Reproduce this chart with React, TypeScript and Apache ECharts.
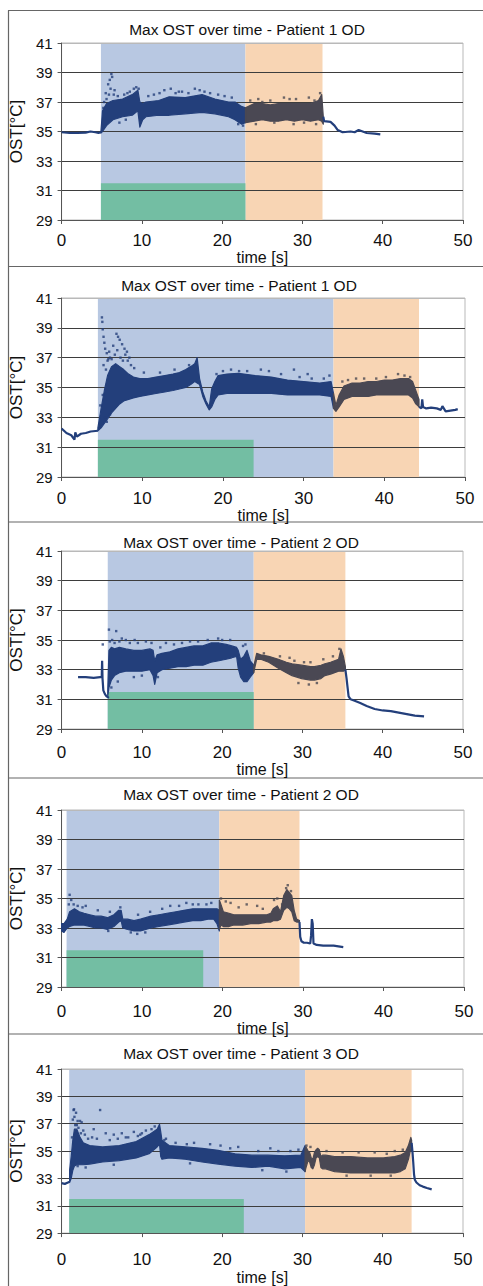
import React, { useEffect, useRef } from "react";
import * as echarts from "echarts";

const FONT = '"Liberation Sans", Arial, Helvetica, sans-serif';

// ---------------- Axis ticks ----------------
const xTicks = [0, 10, 20, 30, 40, 50];
const yTicks = [29, 31, 33, 35, 37, 39, 41];

// ---------------- Panel 1 ----------------
const p1Title = "Max OST over time - Patient 1 OD";
const p1Blue = [4.9, 22.9];
const p1Orange = [22.9, 32.5];
const p1Green = [4.9, 22.9, 31.5];
const p1PreT = [0, 1, 2, 3, 3.6, 4.2, 4.6, 4.9];
const p1PreY = [34.95, 34.9, 34.9, 34.92, 35.0, 34.95, 34.9, 34.95];
const p1BlueT = [4.9, 5.1, 5.6, 6.4, 7.6, 8.8, 9.5, 9.75, 10.1, 10.5, 12.1, 13.4, 15.4, 17.5, 19.1, 20.8, 21.6, 22.4, 22.9];
const p1BlueLo = [34.9, 35.0, 35.4, 35.8, 36.0, 36.1, 36.4, 35.3, 35.8, 36.0, 36.1, 36.1, 36.2, 36.3, 36.2, 36.0, 35.8, 35.5, 35.6];
const p1BlueHi = [35.0, 36.4, 36.9, 37.1, 37.2, 37.5, 37.8, 37.0, 36.9, 37.0, 37.1, 37.35, 37.3, 37.5, 37.2, 37.0, 37.0, 36.7, 36.6];
const p1GrayT = [22.9, 24, 25, 26, 27, 28, 29, 30, 31, 32, 32.4, 32.6];
const p1GrayLo = [35.6, 35.7, 35.8, 35.7, 35.7, 35.8, 35.7, 35.8, 35.7, 35.8, 35.7, 35.5];
const p1GrayHi = [36.6, 36.9, 36.9, 36.8, 36.9, 36.9, 36.9, 36.9, 36.9, 37.1, 37.5, 36.0];
const p1PostT = [32.6, 32.7, 33.5, 34.0, 34.4, 35.0, 36.0, 36.5, 37.0, 37.5, 38.0, 39.0, 39.7];
const p1PostY = [36.0, 35.7, 35.65, 35.4, 35.1, 34.95, 35.0, 34.95, 35.1, 35.0, 34.9, 34.85, 34.8];
const p1Outliers = [
  [5.3, 37.0], [5.5, 37.6], [5.8, 38.2], [6.0, 38.5], [6.2, 38.9], [6.3, 38.7], [6.1, 37.9],
  [6.5, 37.5], [7.0, 37.4], [8.5, 37.7], [9.0, 37.9], [9.3, 38.0], [12.8, 37.8], [13.6, 37.9],
  [14.6, 37.7], [16.6, 37.9], [17.2, 37.8], [18.5, 37.6], [24.5, 37.2], [26.0, 37.1],
  [27.7, 37.3], [29.2, 37.2], [30.8, 37.3], [32.2, 37.6],
  [7.8, 37.5], [8.2, 37.6], [10.8, 37.4], [11.5, 37.5], [12.2, 37.6], [14.2, 37.6], [15.0, 37.7],
  [15.8, 37.6], [17.8, 37.7], [19.5, 37.5], [20.3, 37.4], [21.2, 37.3], [5.2, 36.6], [5.6, 37.2],
  [5.9, 37.5], [6.6, 37.8], [9.6, 37.9], [23.5, 37.1], [25.0, 37.0], [28.4, 37.2], [31.5, 37.1],
  [7.2, 35.6], [8.0, 35.8], [22.0, 35.5], [22.6, 35.4], [24.2, 35.5], [26.5, 35.6], [28.9, 35.5],
  [30.2, 35.6], [31.7, 35.5],
];

// ---------------- Panel 2 ----------------
const p2Title = "Max OST over time - Patient 1 OD";
const p2Blue = [4.5, 33.7];
const p2Orange = [33.7, 44.3];
const p2Green = [4.5, 23.8, 31.5];
const p2PreT = [0, 0.6, 1.2, 1.6, 1.7, 1.9, 2.4, 3.0, 3.6, 4.5];
const p2PreY = [32.25, 31.95, 31.8, 31.5, 32.0, 31.7, 31.9, 31.95, 32.05, 32.1];
const p2BlueT = [4.5, 4.9, 5.3, 5.7, 6.2, 6.7, 7.2, 7.7, 8.3, 8.9, 9.7, 10.7, 11.7, 12.8, 13.8, 14.6, 15.4, 16.0, 16.5, 16.8, 17.1, 17.5, 17.9, 18.3, 18.6, 19.0, 19.4, 20.5, 21.9, 24.0, 26.0, 28.0, 30.0, 32.0, 33.4, 33.7];
const p2BlueLo = [32.1, 32.3, 32.6, 32.9, 33.3, 33.6, 33.9, 34.1, 34.2, 34.3, 34.4, 34.5, 34.6, 34.7, 34.8, 34.9, 35.0, 35.2, 35.4, 35.3, 35.2, 34.4, 33.9, 33.5, 33.7, 34.2, 34.5, 34.6, 34.6, 34.6, 34.6, 34.5, 34.5, 34.5, 34.4, 33.6];
const p2BlueHi = [32.3, 33.6, 34.8, 35.8, 36.4, 36.6, 36.4, 36.2, 35.9, 35.7, 35.6, 35.6, 35.7, 35.8, 35.9, 36.0, 36.2, 36.4, 36.6, 37.0, 35.6, 34.7, 34.1, 33.7, 34.9, 35.4, 35.8, 35.9, 35.95, 35.8, 35.7, 35.5, 35.4, 35.3, 35.4, 34.6];
const p2GrayT = [33.7, 34.0, 34.4, 35.0, 36.0, 37.0, 38.0, 39.0, 40.0, 41.0, 42.0, 43.0, 43.5, 43.9, 44.3];
const p2GrayLo = [33.6, 33.4, 33.7, 34.2, 34.4, 34.4, 34.4, 34.5, 34.5, 34.5, 34.5, 34.5, 34.3, 33.9, 33.7];
const p2GrayHi = [34.6, 33.8, 34.5, 35.1, 35.3, 35.3, 35.4, 35.4, 35.5, 35.5, 35.6, 35.6, 35.4, 34.8, 34.2];
const p2PostT = [44.3, 44.6, 44.7, 44.8, 45.2, 45.8, 46.5, 47.0, 47.2, 47.6, 48.2, 48.8, 49.1];
const p2PostY = [33.7, 33.6, 34.2, 33.7, 33.6, 33.65, 33.6, 33.5, 33.75, 33.4, 33.45, 33.5, 33.55];
const p2Outliers = [
  [5.0, 39.7], [5.05, 39.4], [5.1, 38.9], [5.2, 38.4], [5.3, 38.0], [5.4, 37.6], [5.6, 37.3],
  [6.0, 37.0], [6.8, 38.6], [7.0, 38.4], [7.2, 38.2], [7.5, 37.9], [7.8, 37.6], [8.1, 37.4],
  [8.4, 37.0], [6.4, 37.8], [5.8, 36.9], [6.6, 37.2], [21.0, 36.2], [22.0, 36.1], [28.8, 36.2],
  [30.5, 35.9], [33.2, 35.8], [36.5, 35.6], [40.2, 35.7], [41.7, 35.9],
  [5.2, 36.5], [5.5, 36.2], [5.7, 36.8], [5.9, 37.4], [6.2, 36.9], [6.9, 37.5], [7.3, 37.0],
  [7.6, 36.8], [7.9, 37.2], [8.2, 36.8], [8.6, 36.5], [9.0, 36.3], [4.8, 33.8], [5.1, 34.5],
  [5.4, 33.0], [5.6, 32.7], [6.0, 33.2], [10.2, 36.0], [12.2, 36.0], [14.0, 36.2], [15.8, 36.5],
  [19.2, 35.9], [20.0, 36.1], [23.0, 36.1], [24.7, 36.2], [25.7, 36.1], [27.2, 35.9], [29.5, 35.7],
  [31.0, 35.6], [32.5, 35.6], [34.8, 35.4], [35.5, 35.5], [37.5, 35.6], [39.0, 35.6], [42.5, 35.8],
  [43.2, 35.7],
];

// ---------------- Panel 3 ----------------
const p3Title = "Max OST over time - Patient 2 OD";
const p3Blue = [5.75, 23.93];
const p3Orange = [23.93, 35.35];
const p3Green = [5.75, 23.93, 31.5];
const p3PreT = [2.05, 3, 4, 4.8, 5.0, 5.05, 5.1, 5.2, 5.4, 5.6, 5.9];
const p3PreY = [32.5, 32.5, 32.45, 32.5, 32.5, 33.6, 32.4, 31.6, 31.35, 31.2, 31.1];
const p3BlueT = [5.75, 5.9, 6.2, 6.6, 7.2, 8.0, 9.0, 10.0, 11.0, 11.4, 11.6, 11.9, 12.5, 13.5, 14.5, 15.5, 16.5, 17.6, 18.6, 19.6, 20.5, 21.2, 21.8, 22.0, 22.3, 22.7, 23.1, 23.5, 23.93];
const p3BlueLo = [31.2, 31.8, 32.3, 32.6, 32.8, 32.9, 32.9, 32.9, 33.0, 32.6, 32.0, 32.8, 33.0, 33.1, 33.2, 33.2, 33.3, 33.3, 33.5, 33.6, 33.7, 33.8, 33.9, 33.1, 32.5, 32.2, 32.2, 32.5, 32.8];
const p3BlueHi = [31.6, 34.3, 34.5, 34.4, 34.5, 34.4, 34.3, 34.3, 34.4, 34.3, 33.6, 34.0, 34.1, 34.2, 34.4, 34.5, 34.6, 34.6, 34.8, 34.8, 34.7, 34.6, 34.5, 34.3, 33.7, 33.9, 34.3, 33.6, 33.3];
const p3GrayT = [23.93, 24.3, 24.8, 25.8, 27.0, 28.0, 28.7, 29.9, 31.0, 31.5, 32.3, 32.8, 33.5, 34.0, 34.5, 34.8, 35.1, 35.35];
const p3GrayLo = [32.8, 33.7, 33.7, 33.5, 33.1, 32.8, 32.6, 32.4, 32.3, 32.3, 32.4, 32.6, 32.7, 32.8, 32.9, 32.9, 32.9, 33.0];
const p3GrayHi = [33.2, 34.1, 34.0, 33.9, 33.7, 33.5, 33.4, 33.3, 33.2, 33.2, 33.3, 33.4, 33.5, 33.6, 33.7, 34.4, 33.9, 33.2];
const p3PostT = [35.35, 35.5, 35.6, 35.75, 36.0, 36.5, 37.2, 38.0, 39.0, 40.0, 41.0, 42.0, 43.0, 44.0, 45.15];
const p3PostY = [33.0, 32.4, 31.9, 31.2, 31.0, 30.9, 30.75, 30.55, 30.35, 30.25, 30.2, 30.1, 30.0, 29.9, 29.85];
const p3Outliers = [
  [5.13, 34.7], [5.9, 35.7], [6.8, 35.6], [7.5, 35.1], [8.0, 35.0], [7.2, 34.9], [9.5, 34.8],
  [10.5, 34.9], [13.0, 34.8], [16.0, 34.9], [19.5, 35.1], [20.0, 35.0], [22.6, 34.6],
  [29.0, 33.6], [31.0, 33.5], [34.6, 34.4],
  [6.0, 34.9], [6.3, 35.0], [6.6, 34.8], [8.5, 34.8], [9.1, 35.0], [11.2, 34.8], [12.3, 34.5],
  [14.0, 34.7], [15.0, 34.8], [17.0, 34.9], [18.2, 35.0], [21.0, 35.0], [22.9, 34.7], [6.2, 31.8],
  [7.0, 32.2], [9.0, 32.5], [10.0, 32.6], [12.0, 32.5], [25.2, 34.1], [27.2, 33.9], [28.4, 33.8],
  [30.2, 33.5], [32.6, 33.7], [33.8, 33.9], [29.5, 32.1], [30.8, 32.0], [31.8, 32.1],
];

// ---------------- Panel 4 ----------------
const p4Title = "Max OST over time - Patient 2 OD";
const p4Blue = [0.62, 19.6];
const p4Orange = [19.6, 29.56];
const p4Green = [0.62, 17.6, 31.5];
const p4PreT: number[] = [];
const p4PreY: number[] = [];
const p4BlueT = [0, 0.3, 0.7, 1.0, 1.6, 2.2, 2.8, 3.5, 4.2, 4.9, 5.7, 6.5, 7.1, 7.4, 7.6, 8.2, 9.0, 9.8, 11.1, 12.1, 13.1, 14.2, 15.2, 16.3, 17.3, 18.2, 18.9, 19.3, 19.6];
const p4BlueLo = [32.8, 32.7, 33.0, 33.1, 33.2, 33.2, 33.2, 33.1, 33.0, 33.0, 32.9, 33.1, 33.4, 33.5, 33.0, 32.9, 32.8, 32.8, 33.0, 33.1, 33.2, 33.3, 33.4, 33.5, 33.5, 33.6, 33.6, 33.3, 32.8];
const p4BlueHi = [33.3, 33.3, 33.6, 34.1, 34.3, 34.1, 34.0, 33.9, 33.8, 33.8, 33.7, 33.9, 34.2, 34.2, 33.6, 33.6, 33.5, 33.6, 33.8, 33.9, 34.0, 34.1, 34.2, 34.3, 34.3, 34.3, 34.3, 34.3, 34.2];
const p4GrayT = [19.6, 19.8, 20.1, 20.8, 21.4, 22.5, 23.5, 24.5, 25.5, 26.0, 26.3, 26.8, 27.2, 27.6, 28.0, 28.3, 28.6, 28.9, 29.2, 29.56];
const p4GrayLo = [32.9, 33.2, 33.1, 33.1, 33.2, 33.2, 33.3, 33.3, 33.4, 33.4, 33.5, 33.5, 33.6, 34.2, 34.4, 34.3, 34.1, 33.5, 33.4, 33.4];
const p4GrayHi = [34.9, 34.6, 34.1, 34.0, 33.9, 33.9, 33.9, 33.9, 33.9, 34.0, 34.3, 34.5, 34.1, 35.2, 35.6, 35.4, 35.2, 34.2, 33.6, 33.5];
const p4PostT = [29.56, 29.65, 29.8, 30.1, 30.5, 30.9, 31.0, 31.1, 31.2, 31.3, 31.7, 32.5, 33.8, 35.0];
const p4PostY = [33.4, 32.4, 32.1, 32.0, 32.0, 31.95, 32.5, 33.6, 33.3, 31.95, 31.85, 31.8, 31.8, 31.7];
const p4Outliers = [
  [1.0, 35.25], [1.2, 34.9], [0.9, 34.6], [3.0, 34.5], [7.3, 34.4], [13.5, 34.5], [15.5, 34.7],
  [16.3, 34.6], [18.0, 34.6], [19.8, 35.0], [21.0, 34.7], [23.0, 34.6], [24.3, 34.5],
  [26.8, 35.0], [28.1, 35.9], [27.9, 35.7], [28.5, 35.5],
  [1.5, 34.6], [2.0, 34.5], [2.6, 34.4], [4.5, 34.2], [6.0, 34.1], [9.5, 33.9], [11.0, 34.1],
  [12.5, 34.3], [14.6, 34.5], [17.0, 34.6], [18.6, 34.7], [20.4, 34.8], [22.0, 34.4], [25.0, 34.3],
  [26.4, 34.9], [27.4, 34.6], [5.8, 32.8], [8.6, 32.7], [9.4, 32.6], [10.4, 32.7],
];

// ---------------- Panel 5 ----------------
const p5Title = "Max OST over time - Patient 3 OD";
const p5Blue = [0.95, 30.33];
const p5Orange = [30.33, 43.6];
const p5Green = [0.95, 22.7, 31.5];
const p5PreT = [0, 0.4, 0.8, 1.0];
const p5PreY = [32.65, 32.6, 32.7, 32.75];
const p5BlueT = [1.0, 1.2, 1.4, 1.6, 1.9, 2.3, 2.7, 3.5, 5.1, 7.2, 9.3, 10.9, 11.9, 12.2, 12.35, 12.5, 13.4, 15.4, 17.5, 19.5, 21.6, 23.7, 25.7, 27.8, 29.8, 30.33];
const p5BlueLo = [32.7, 33.0, 33.6, 33.9, 34.0, 34.0, 34.0, 34.05, 34.2, 34.3, 34.5, 34.8, 35.3, 35.5, 34.6, 34.4, 34.5, 34.4, 34.2, 34.05, 33.9, 33.8, 33.9, 33.7, 33.8, 33.5];
const p5BlueHi = [33.6, 34.6, 35.8, 36.6, 36.6, 36.0, 35.6, 35.4, 35.3, 35.4, 35.7, 36.2, 36.6, 36.96, 36.4, 35.8, 35.4, 35.3, 35.2, 35.05, 34.8, 34.7, 34.7, 34.65, 34.7, 35.4];
const p5GrayT = [30.33, 30.45, 30.7, 30.9, 31.1, 31.3, 31.5, 31.7, 31.9, 32.1, 32.3, 32.5, 32.9, 34.0, 36.0, 38.1, 40.1, 41.5, 42.2, 42.8, 43.2, 43.5, 43.6];
const p5GrayLo = [33.5, 33.8, 34.3, 34.2, 33.8, 33.7, 34.0, 34.5, 34.6, 34.5, 33.8, 33.7, 33.7, 33.5, 33.4, 33.4, 33.4, 33.4, 33.5, 33.7, 34.4, 35.2, 35.0];
const p5GrayHi = [35.2, 35.3, 35.0, 34.9, 34.5, 34.4, 34.9, 35.1, 35.2, 35.1, 34.6, 34.7, 34.7, 34.6, 34.6, 34.5, 34.5, 34.6, 34.7, 34.9, 35.4, 36.0, 35.8];
const p5PostT = [43.6, 43.7, 43.8, 43.9, 44.0, 44.2, 44.6, 45.0, 45.5, 46.1];
const p5PostY = [35.6, 35.0, 34.2, 33.3, 32.9, 32.7, 32.5, 32.4, 32.3, 32.2];
const p5Outliers = [
  [1.4, 37.3], [1.5, 38.0], [1.55, 38.05], [1.8, 37.8], [1.6, 37.5], [2.0, 37.2], [2.3, 37.2],
  [2.5, 37.1], [1.9, 36.9], [2.7, 36.5], [4.0, 36.6], [4.8, 38.0], [5.5, 36.3], [6.5, 36.2],
  [7.5, 36.3], [8.3, 36.0], [9.0, 36.4], [9.5, 36.1], [10.5, 36.5], [13.0, 35.9], [16.5, 35.6],
  [22.0, 35.3], [26.0, 35.2], [30.5, 35.4], [33.0, 35.0], [39.0, 34.9], [41.5, 35.0],
  [1.3, 36.0], [1.7, 36.9], [2.1, 36.7], [2.4, 36.3], [2.9, 36.2], [3.3, 35.9], [3.8, 36.0],
  [4.4, 35.9], [6.0, 35.8], [7.0, 35.9], [8.0, 36.0], [9.8, 36.2], [10.0, 36.3], [11.2, 36.6],
  [11.6, 36.8], [12.8, 35.8], [14.2, 35.6], [15.6, 35.5], [18.5, 35.5], [19.8, 35.4], [21.0, 35.2],
  [24.5, 35.0], [27.0, 35.0], [28.5, 35.0], [29.5, 35.1], [31.0, 35.3], [35.0, 34.9], [37.0, 34.9],
  [40.5, 34.8], [42.5, 35.1], [2.0, 33.9], [3.0, 33.8], [6.5, 34.0], [16.0, 34.1], [25.0, 33.6],
  [28.0, 33.5], [35.5, 33.2], [38.5, 33.2], [41.0, 33.2],
];

// ---------------- Colors & layout (not data) ----------------
const C_BLUE_BG = "#b8c8e2";
const C_ORANGE_BG = "#f8d5b4";
const C_GREEN = "#73bea3";
const C_DATA = "#233f7b";
const C_DATA2 = "#4a4853";

type Panel = {
  title: string; blue: number[]; orange: number[]; green: number[];
  preT: number[]; preY: number[];
  blueT: number[]; blueLo: number[]; blueHi: number[];
  grayT: number[]; grayLo: number[]; grayHi: number[];
  postT: number[]; postY: number[];
  outliers: number[][];
};

const panels: Panel[] = [
  { title: p1Title, blue: p1Blue, orange: p1Orange, green: p1Green, preT: p1PreT, preY: p1PreY, blueT: p1BlueT, blueLo: p1BlueLo, blueHi: p1BlueHi, grayT: p1GrayT, grayLo: p1GrayLo, grayHi: p1GrayHi, postT: p1PostT, postY: p1PostY, outliers: p1Outliers },
  { title: p2Title, blue: p2Blue, orange: p2Orange, green: p2Green, preT: p2PreT, preY: p2PreY, blueT: p2BlueT, blueLo: p2BlueLo, blueHi: p2BlueHi, grayT: p2GrayT, grayLo: p2GrayLo, grayHi: p2GrayHi, postT: p2PostT, postY: p2PostY, outliers: p2Outliers },
  { title: p3Title, blue: p3Blue, orange: p3Orange, green: p3Green, preT: p3PreT, preY: p3PreY, blueT: p3BlueT, blueLo: p3BlueLo, blueHi: p3BlueHi, grayT: p3GrayT, grayLo: p3GrayLo, grayHi: p3GrayHi, postT: p3PostT, postY: p3PostY, outliers: p3Outliers },
  { title: p4Title, blue: p4Blue, orange: p4Orange, green: p4Green, preT: p4PreT, preY: p4PreY, blueT: p4BlueT, blueLo: p4BlueLo, blueHi: p4BlueHi, grayT: p4GrayT, grayLo: p4GrayLo, grayHi: p4GrayHi, postT: p4PostT, postY: p4PostY, outliers: p4Outliers },
  { title: p5Title, blue: p5Blue, orange: p5Orange, green: p5Green, preT: p5PreT, preY: p5PreY, blueT: p5BlueT, blueLo: p5BlueLo, blueHi: p5BlueHi, grayT: p5GrayT, grayLo: p5GrayLo, grayHi: p5GrayHi, postT: p5PostT, postY: p5PostY, outliers: p5Outliers },
];

// plot rectangles [left, top, width, height], title pos, label margins
const layout = [
  { left: 58, top: 43, w: 405, h: 177, titleX: 247, titleY: 29, xMargin: 12, xNameGap: 29 },
  { left: 53, top: 298, w: 412, h: 179, titleX: 239, titleY: 285, xMargin: 13, xNameGap: 27 },
  { left: 57, top: 551, w: 406, h: 178, titleX: 241, titleY: 542, xMargin: 15, xNameGap: 31 },
  { left: 61, top: 810, w: 403, h: 177, titleX: 241, titleY: 794, xMargin: 16, xNameGap: 27 },
  { left: 58, top: 1069, w: 405, h: 179, titleX: 241, titleY: 1053, xMargin: 18, xNameGap: 26 },
];
const dividers = [266.5, 522, 778, 1034];

function zip(a: number[], b: number[]) {
  return a.map((v, i) => [v, b[i]]);
}

function bandSeries(i: number, t: number[], lo: number[], hi: number[], color: string) {
  return {
    type: "custom",
    xAxisIndex: i,
    yAxisIndex: i,
    z: 3,
    silent: true,
    data: t.length ? [[t[0], lo[0]]] : [],
    renderItem: (params: any, api: any) => {
      if (params.dataIndex !== 0) return null;
      const pts: number[][] = [];
      for (let k = 0; k < t.length; k++) pts.push(api.coord([t[k], hi[k]]));
      for (let k = t.length - 1; k >= 0; k--) pts.push(api.coord([t[k], lo[k]]));
      return {
        type: "polygon",
        shape: { points: pts },
        style: { fill: color, stroke: color, lineWidth: 1.2, lineJoin: "round" },
      };
    },
  };
}

function buildOption() {
  const grid: any[] = [];
  const xAxis: any[] = [];
  const yAxis: any[] = [];
  const series: any[] = [];
  const graphic: any[] = [];

  panels.forEach((p, i) => {
    const L = layout[i];
    grid.push({
      left: L.left, top: L.top, width: L.w, height: L.h,
      show: true, borderColor: "#b9b9b9", borderWidth: 1, backgroundColor: "transparent",
    });
    xAxis.push({
      gridIndex: i, type: "value", min: xTicks[0], max: xTicks[xTicks.length - 1],
      interval: xTicks[1] - xTicks[0], z: 2,
      name: "time [s]", nameLocation: "middle", nameGap: L.xNameGap,
      nameTextStyle: { fontSize: 16, color: "#111", fontFamily: FONT },
      axisLine: { show: true, lineStyle: { color: "#555", width: 1 } },
      axisTick: { show: true, length: 4, lineStyle: { color: "#555" } },
      axisLabel: { fontSize: 17, color: "#111", margin: L.xMargin, fontFamily: FONT },
      splitLine: { show: false },
    });
    yAxis.push({
      gridIndex: i, type: "value", min: yTicks[0], max: yTicks[yTicks.length - 1],
      interval: yTicks[1] - yTicks[0], z: 2,
      name: "OST[°C]", nameLocation: "middle", nameGap: L.left - 31,
      nameTextStyle: { fontSize: 17, color: "#111", fontFamily: FONT },
      axisLine: { show: true, lineStyle: { color: "#555", width: 1 } },
      axisTick: { show: true, length: 4, lineStyle: { color: "#555" } },
      axisLabel: { fontSize: 15, color: "#111", margin: 9, fontFamily: FONT },
      splitLine: {
        show: true,
        lineStyle: { color: ["#555", "#3d3d3d", "#3d3d3d", "#3d3d3d", "#3d3d3d", "#3d3d3d", "#b9b9b9"], width: 1 },
      },
    });

    // phase backgrounds
    series.push({
      type: "custom", xAxisIndex: i, yAxisIndex: i, z: 1, silent: true,
      data: [[p.blue[0], yTicks[0]]],
      renderItem: (_params: any, api: any) => {
        const yTop = yTicks[yTicks.length - 1];
        const yBot = yTicks[0];
        const rect = (x0: number, x1: number, y1: number, color: string) => {
          const a = api.coord([x0, y1]);
          const b = api.coord([x1, yBot]);
          return { type: "rect", shape: { x: a[0], y: a[1], width: b[0] - a[0], height: b[1] - a[1] }, style: { fill: color } };
        };
        return {
          type: "group",
          children: [
            rect(p.blue[0], p.blue[1], yTop, C_BLUE_BG),
            rect(p.orange[0], p.orange[1], yTop, C_ORANGE_BG),
            rect(p.green[0], p.green[1], p.green[2], C_GREEN),
          ],
        };
      },
    });

    series.push(bandSeries(i, p.blueT, p.blueLo, p.blueHi, C_DATA));
    series.push(bandSeries(i, p.grayT, p.grayLo, p.grayHi, C_DATA2));

    const lineStyleSeries = (t: number[], y: number[]) => ({
      type: "line", xAxisIndex: i, yAxisIndex: i, z: 3, silent: true,
      data: zip(t, y), showSymbol: false, symbol: "none",
      lineStyle: { color: C_DATA, width: 2.2 },
    });
    if (p.preT.length) series.push(lineStyleSeries(p.preT, p.preY));
    if (p.postT.length) series.push(lineStyleSeries(p.postT, p.postY));

    const inOrange = (t: number) => t >= p.orange[0] && t <= p.orange[1];
    series.push({
      type: "scatter", xAxisIndex: i, yAxisIndex: i, z: 3, silent: true,
      symbol: "rect", symbolSize: 2.4,
      data: p.outliers.map((d) => ({ value: d, itemStyle: { color: inOrange(d[0]) ? C_DATA2 : C_DATA } })),
    });

    graphic.push({
      type: "text", x: L.titleX, y: L.titleY,
      style: { text: p.title, fontSize: 15.5, fill: "#111", fontFamily: FONT, align: "center", verticalAlign: "middle" },
    });
  });

  // frame
  graphic.push({ type: "line", shape: { x1: 8.5, y1: 10.5, x2: 8.5, y2: 1286 }, style: { stroke: "#666", lineWidth: 1.2 } });
  graphic.push({ type: "line", shape: { x1: 8, y1: 10.5, x2: 483, y2: 10.5 }, style: { stroke: "#666", lineWidth: 1.2 } });
  dividers.forEach((y) => {
    graphic.push({ type: "line", shape: { x1: 8, y1: y, x2: 483, y2: y }, style: { stroke: "#666", lineWidth: 1.2 } });
  });

  return {
    animation: false,
    backgroundColor: "#ffffff",
    textStyle: { fontFamily: FONT },
    grid, xAxis, yAxis, series, graphic,
  };
}

export default function App() {
  const ref = useRef<HTMLDivElement>(null);
  useEffect(() => {
    document.body.style.margin = "0";
    if (!ref.current) return;
    const chart = echarts.init(ref.current, undefined, { renderer: "svg" });
    chart.setOption(buildOption() as any);
    return () => chart.dispose();
  }, []);
  return <div ref={ref} style={{ width: 483, height: 1286 }} />;
}
